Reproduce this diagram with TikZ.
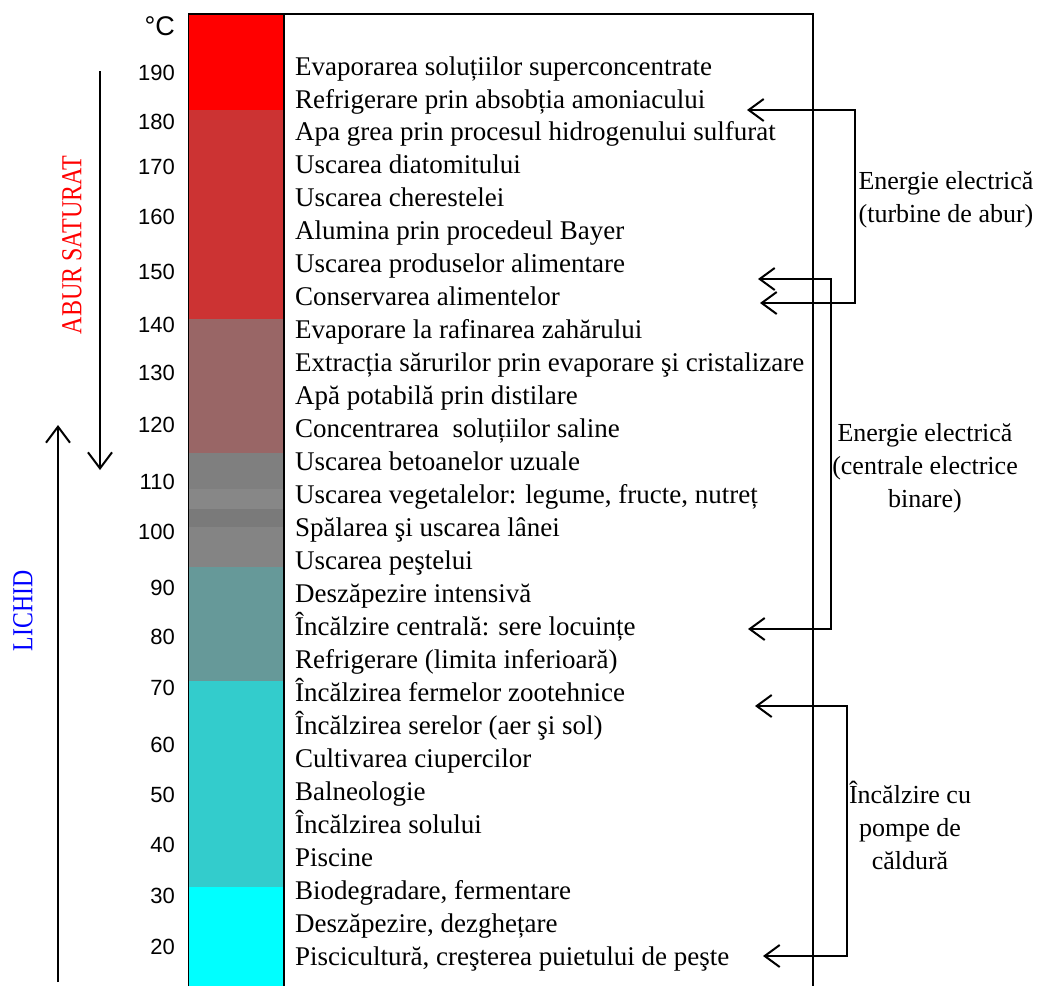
\documentclass[tikz,border=0pt]{standalone}
\usepackage{fontspec}
\setmainfont{Liberation Serif}
\newfontfamily\numfont{Liberation Sans}
\usetikzlibrary{arrows.meta}
\definecolor{cA}{HTML}{FF0000}
\definecolor{cB}{HTML}{CC3333}
\definecolor{cC}{HTML}{996666}
\definecolor{cD1}{HTML}{7F7F7F}
\definecolor{cD2}{HTML}{878787}
\definecolor{cD3}{HTML}{7A7A7A}
\definecolor{cD4}{HTML}{848484}
\definecolor{cE}{HTML}{669999}
\definecolor{cF}{HTML}{33CCCC}
\definecolor{cG}{HTML}{00FFFF}
\begin{document}
\begin{tikzpicture}[x=1pt,y=-1pt,
  item/.style={anchor=base west,inner sep=0pt,font=\fontsize{27}{33}\selectfont},
  num/.style={anchor=base east,inner sep=0pt,font=\numfont\fontsize{22}{26}\selectfont},
  lab/.style={align=center,inner sep=0pt,font=\fontsize{26}{33}\selectfont},
  vlab/.style={rotate=90,inner sep=0pt,font=\fontsize{29}{33}\selectfont},
  frame/.style={line width=1.3pt},
  barb/.style={line width=1.3pt,{Straight Barb[length=15pt,width=22pt,line width=2pt]}-{Straight Barb[length=15pt,width=22pt,line width=2pt]}},
  sbarb/.style={line width=1.3pt,-{Straight Barb[length=16pt,width=24pt,line width=2pt]}}]
\useasboundingbox (0,0) rectangle (1038,986);
% colour bands
\fill[cA] (188,14) rectangle (284,110);
\fill[cB] (188,110) rectangle (284,319);
\fill[cC] (188,319) rectangle (284,453);
\fill[cD1] (188,453) rectangle (284,489);
\fill[cD2] (188,489) rectangle (284,509);
\fill[cD3] (188,509) rectangle (284,527);
\fill[cD4] (188,527) rectangle (284,567);
\fill[cE] (188,567) rectangle (284,681);
\fill[cF] (188,681) rectangle (284,887);
\fill[cG] (188,887) rectangle (284,986);
% frame
\draw[frame] (188.5,986) -- (188.5,14) -- (813,14) -- (813,986);
\draw[frame] (284,14) -- (284,986);
% scale
\node[num,font=\numfont\fontsize{27}{30}\selectfont] (nC) at (175,35) {°C};
\node[num] (n190) at (175,80) {190};
\node[num] (n180) at (175,129) {180};
\node[num] (n170) at (175,174) {170};
\node[num] (n160) at (175,224) {160};
\node[num] (n150) at (175,279) {150};
\node[num] (n140) at (175,332) {140};
\node[num] (n130) at (175,380) {130};
\node[num] (n120) at (175,432) {120};
\node[num] (n110) at (175,489) {110};
\node[num] (n100) at (175,539) {100};
\node[num] (n90) at (175,595) {90};
\node[num] (n80) at (175,644) {80};
\node[num] (n70) at (175,695) {70};
\node[num] (n60) at (175,752) {60};
\node[num] (n50) at (175,802) {50};
\node[num] (n40) at (175,852) {40};
\node[num] (n30) at (175,903) {30};
\node[num] (n20) at (175,954) {20};
% applications
\node[item] (t1) at (295,75.0) {Evaporarea soluțiilor superconcentrate};
\node[item] (t2) at (295,108.0) {Refrigerare prin absobția amoniacului};
\node[item] (t3) at (295,140.9) {Apa grea prin procesul hidrogenului sulfurat};
\node[item] (t4) at (295,173.9) {Uscarea diatomitului};
\node[item] (t5) at (295,206.8) {Uscarea cherestelei};
\node[item] (t6) at (295,239.8) {Alumina prin procedeul Bayer};
\node[item] (t7) at (295,272.8) {Uscarea produselor alimentare};
\node[item] (t8) at (295,305.7) {Conservarea alimentelor};
\node[item] (t9) at (295,338.7) {Evaporare la rafinarea zahărului};
\node[item] (t10) at (295,371.6) {Extracția sărurilor prin evaporare şi cristalizare};
\node[item] (t11) at (295,404.6) {Apă potabilă prin distilare};
\node[item] (t12) at (295,437.6) {Concentrarea\ \ soluțiilor saline};
\node[item] (t13) at (295,470.5) {Uscarea betoanelor uzuale};
\node[item] (t14) at (295,503.5) {Uscarea vegetalelor: legume, fructe, nutreț};
\node[item] (t15) at (295,536.4) {Spălarea şi uscarea lânei};
\node[item] (t16) at (295,569.4) {Uscarea peştelui};
\node[item] (t17) at (295,602.4) {Deszăpezire intensivă};
\node[item] (t18) at (295,635.3) {Încălzire centrală: sere locuințe};
\node[item] (t19) at (295,668.3) {Refrigerare (limita inferioară)};
\node[item] (t20) at (295,701.2) {Încălzirea fermelor zootehnice};
\node[item] (t21) at (295,734.2) {Încălzirea serelor (aer şi sol)};
\node[item] (t22) at (295,767.2) {Cultivarea ciupercilor};
\node[item] (t23) at (295,800.1) {Balneologie};
\node[item] (t24) at (295,833.1) {Încălzirea solului};
\node[item] (t25) at (295,866.0) {Piscine};
\node[item] (t26) at (295,899.0) {Biodegradare, fermentare};
\node[item] (t27) at (295,932.0) {Deszăpezire, dezghețare};
\node[item] (t28) at (295,965.0) {Piscicultură, creşterea puietului de peşte};
% state labels
\node[vlab,text=cA] (abur) at (72,245) {\scalebox{0.83}[1]{ABUR SATURAT}};
\node[vlab,text=blue] (lichid) at (23,611) {\scalebox{0.82}[1]{LICHID}};
\coordinate (d1) at (100,71);
\coordinate (d2) at (100,470);
\coordinate (u1) at (58,982);
\coordinate (u2) at (58,425);
\draw[sbarb] (d1) -- (d2);
\draw[sbarb] (u1) -- (u2);
% energy labels
\node[lab] (e1) at (946,200) {Energie electrică\\(turbine de abur)};
\node[lab] (e2) at (925,468) {Energie electrică\\(centrale electrice\\binare)};
\node[lab] (e3) at (910,825) {Încălzire cu\\pompe de\\căldură};
% brackets
\coordinate (a1s) at (747,110);
\coordinate (a1a) at (855,110);
\coordinate (a1b) at (855,303);
\coordinate (a1e) at (760,303);
\coordinate (a2s) at (758,279);
\coordinate (a2a) at (831,279);
\coordinate (a2b) at (831,629);
\coordinate (a2e) at (748,629);
\coordinate (a3s) at (755,706);
\coordinate (a3a) at (847,706);
\coordinate (a3b) at (847,956);
\coordinate (a3e) at (763,956);
\draw[barb] (a1s) -- (a1a) -- (a1b) -- (a1e);
\draw[barb] (a2s) -- (a2a) -- (a2b) -- (a2e);
\draw[barb] (a3s) -- (a3a) -- (a3b) -- (a3e);
\end{tikzpicture}
\end{document}
